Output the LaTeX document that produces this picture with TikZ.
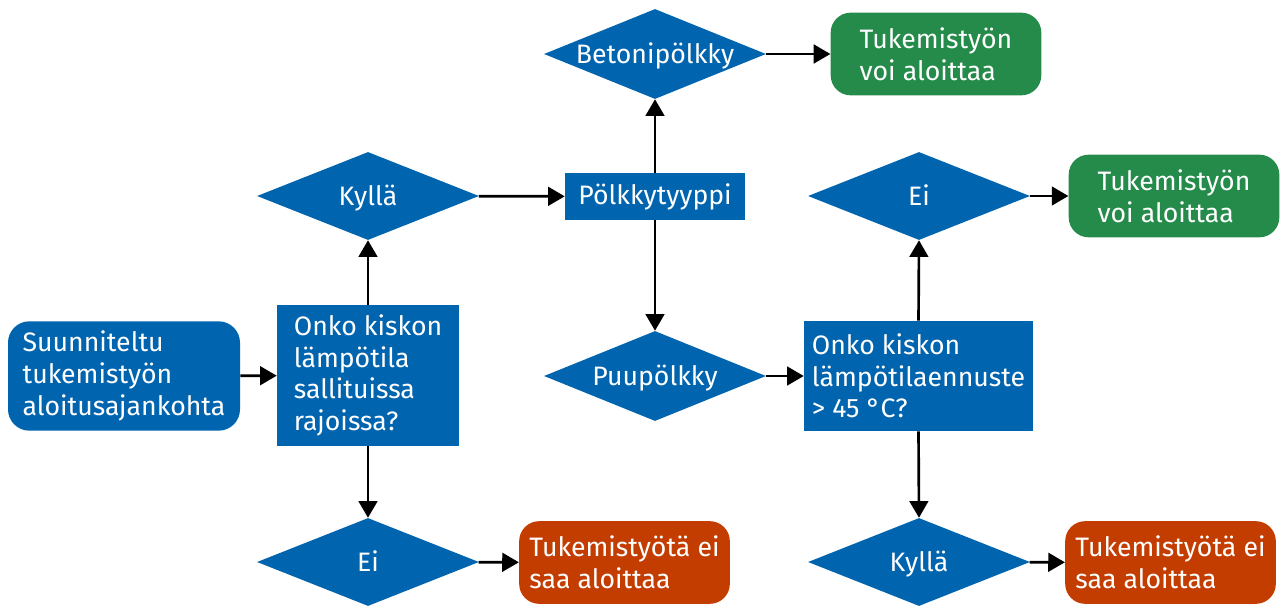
\documentclass[tikz,border=0pt]{standalone}
\usepackage{fontspec}
\setmainfont{Fira Sans}
\usetikzlibrary{shapes.geometric,arrows.meta}
\definecolor{flowblue}{HTML}{0064AF}
\definecolor{okgreen}{HTML}{258B4A}
\definecolor{stopred}{HTML}{C43D00}
\tikzset{
  base/.style={inner sep=0pt, text=white, font=\fontsize{20}{23.8}\selectfont, align=left},
  procbox/.style={base, rectangle, fill=flowblue},
  startbox/.style={base, rectangle, rounded corners=16pt, fill=flowblue},
  decision/.style={base, diamond, aspect=2.5, fill=flowblue, minimum width=166.5pt, minimum height=66pt,
    text height=14pt, text depth=0pt},
  okbox/.style={base, rectangle, rounded corners=15pt, fill=okgreen, minimum width=158pt, minimum height=62pt},
  stopbox/.style={base, rectangle, rounded corners=15pt, fill=stopred, minimum width=158pt, minimum height=62pt},
  flow/.style={line width=2pt, -{Triangle[length=12.5pt,width=14pt]}}
}
\begin{document}
\begin{tikzpicture}[x=0.75pt, y=-0.75pt]
\useasboundingbox (0,0) rectangle (1280,606);

% left column
\node[startbox, minimum width=174pt, minimum height=82pt] (start) at (124,376)
  {Suunniteltu\\tukemistyön\\aloitusajankohta};
\node[procbox, minimum width=136.5pt, minimum height=106pt] (q1) at (368,375.5)
  {Onko kiskon\\lämpötila\\sallituissa\\rajoissa?};
\node[decision] (yes1) at (368,196) {Kyllä};
\node[decision] (no1) at (368,562) {Ei};
\node[stopbox] (stop1) at (624.5,562.5) {Tukemistyötä ei\\saa aloittaa};

% middle column
\node[procbox, minimum width=135pt, minimum height=35.25pt] (type) at (655,196.5) {Pölkkytyyppi};
\node[decision, minimum height=67.5pt] (concrete) at (655,54) {Betonipölkky};
\node[okbox] (ok1) at (936,54) {Tukemistyön\\voi aloittaa};
\node[decision, minimum height=67.5pt] (wood) at (655,376) {Puupölkky};

% right column
\node[procbox, minimum width=171.75pt, minimum height=82.5pt] (q2) at (918.5,376)
  {Onko kiskon\\lämpötilaennuste\\> 45 °C?};
\node[decision] (no2) at (919,196) {Ei};
\node[okbox] (ok2) at (1174,196) {Tukemistyön\\voi aloittaa};
\node[decision] (yes2) at (919,562) {Kyllä};
\node[stopbox] (stop2) at (1170.5,562.5) {Tukemistyötä ei\\saa aloittaa};

% connectors
\draw[flow] (start) -- (q1);
\draw[flow] (q1.north) -- (yes1.south);
\draw[flow] (q1.south) -- (no1.north);
\draw[flow] (no1) -- (stop1);
\draw[flow] (yes1) -- (type);
\draw[flow] (type.north) -- (concrete.south);
\draw[flow] (concrete) -- (ok1);
\draw[flow] (type.south) -- (wood.north);
\draw[flow] (wood) -- (q2);
\draw[flow] (q2.north) -- (no2.south);
\draw[flow] (no2) -- (ok2);
\draw[flow] (q2.south) -- (yes2.north);
\draw[flow] (yes2) -- (stop2);
\end{tikzpicture}
\end{document}
